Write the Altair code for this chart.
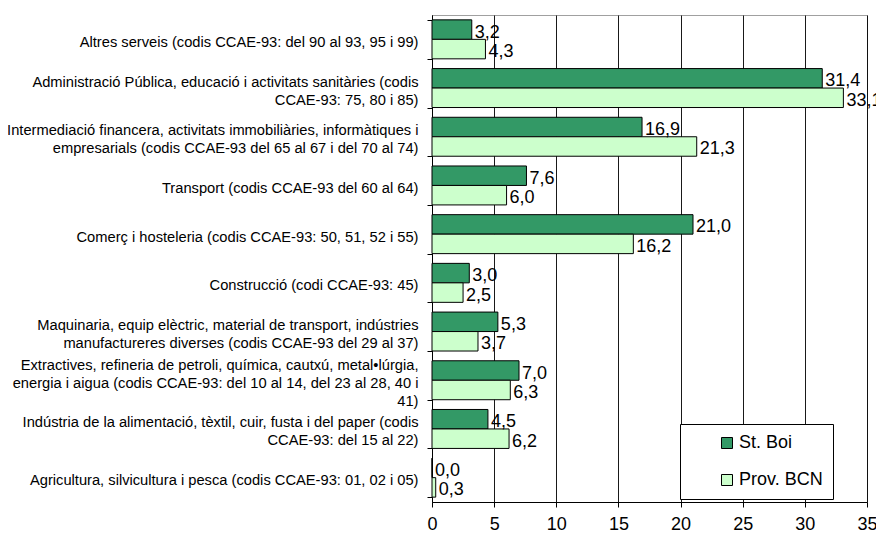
import altair as alt
import pandas as pd

categories = [
    "Altres serveis (codis CCAE-93: del 90 al 93, 95 i 99)",
    "Administració Pública, educació i activitats sanitàries (codis|CCAE-93: 75, 80 i 85)",
    "Intermediació financera, activitats immobiliàries, informàtiques i|empresarials (codis CCAE-93 del 65 al 67 i del 70 al 74)",
    "Transport (codis CCAE-93 del 60 al 64)",
    "Comerç i hosteleria (codis CCAE-93: 50, 51, 52 i 55)",
    "Construcció (codi CCAE-93: 45)",
    "Maquinaria, equip elèctric, material de transport, indústries|manufactureres diverses (codis CCAE-93 del 29 al 37)",
    "Extractives, refineria de petroli, química, cautxú, metal•lúrgia,|energia i aigua (codis CCAE-93: del 10 al 14, del 23 al 28, 40 i|41)",
    "Indústria de la alimentació, tèxtil, cuir, fusta i del paper (codis|CCAE-93: del 15 al 22)",
    "Agricultura, silvicultura i pesca (codis CCAE-93: 01, 02 i 05)",
]
st_boi = [3.2, 31.4, 16.9, 7.6, 21.0, 3.0, 5.3, 7.0, 4.5, 0.0]
prov_bcn = [4.3, 33.1, 21.3, 6.0, 16.2, 2.5, 3.7, 6.3, 6.2, 0.3]
series = ["St. Boi", "Prov. BCN"]
colors = ["#339966", "#CCFFCC"]
x_ticks = [0, 5, 10, 15, 20, 25, 30, 35]

rows = []
for c, a, b in zip(categories, st_boi, prov_bcn):
    for s, v in zip(series, (a, b)):
        rows.append({"cat": c, "serie": s, "valor": v,
                     "etiqueta": f"{v:.1f}".replace(".", ",")})
df = pd.DataFrame(rows)

FONT = "Liberation Sans"
ZW = "\u200b"  # zero-width spacer line (kept, not trimmed)

# lines are interleaved with blank half-height lines so that every label
# block (1, 2 or 3 lines) is vertically centred on its band
label_expr = (
    f"split(slice('{ZW}|{ZW}|', 0, 2 * (3 - length(split(datum.label, '|')))) + "
    f"join(split(datum.label, '|'), '|{ZW}|'), '|')"
)

y_enc = alt.Y(
    "cat:N", sort=categories,
    scale=alt.Scale(paddingInner=0.2, paddingOuter=0.1),
    axis=alt.Axis(title=None, labelExpr=label_expr,
                  labelFont=FONT, labelFontSize=14.7, labelLineHeight=9,
                  labelLimit=700, labelPadding=9, tickSize=5, tickBand="extent",
                  labelOffset=-15, labelColor="black", domainColor="black",
                  tickColor="black"),
)
yoff = alt.YOffset("serie:N", sort=series,
                   scale=alt.Scale(paddingInner=0, paddingOuter=0))
x_enc = alt.X(
    "valor:Q",
    scale=alt.Scale(domain=[0, 35], nice=False),
    axis=alt.Axis(title=None, values=x_ticks, grid=True, gridColor="black",
                  gridOpacity=0.9, tickSize=5, labelFont=FONT,
                  labelFontSize=18, labelPadding=22, labelBaseline="alphabetic",
                  labelFlush=False, labelColor="black", domainColor="black",
                  tickColor="black"),
)

base = alt.Chart(df)
bars = base.mark_bar(stroke="black", strokeWidth=1).encode(
    x=x_enc, y=y_enc, yOffset=yoff,
    color=alt.Color("serie:N", sort=series,
                    scale=alt.Scale(domain=series, range=colors),
                    legend=alt.Legend(title=None, orient="none", legendX=248,
                                      legendY=409, symbolType="square",
                                      symbolSize=121, symbolStrokeColor="black",
                                      symbolStrokeWidth=1, labelFont=FONT,
                                      labelFontSize=18, padding=10,
                                      rowPadding=19, strokeColor="black",
                                      fillColor="white", symbolOffset=28,
                                      labelOffset=3, labelColor="black")),
)
labels = base.mark_text(align="left", baseline="middle", dx=3, dy=3,
                        font=FONT, fontSize=18, color="black").encode(
    x="valor:Q", y=alt.Y("cat:N", sort=categories), yOffset=yoff,
    text="etiqueta:N",
)

chart = alt.layer(bars, labels).properties(
    width=435, height=487,
    autosize=alt.AutoSizeParams(type="none"),
    padding={"left": 424, "top": 7, "right": 9, "bottom": 30},
    background="white",
).configure_view(stroke="#a0a0a0")

chart.save("out.html", embed_options={"renderer": "svg", "actions": False})
